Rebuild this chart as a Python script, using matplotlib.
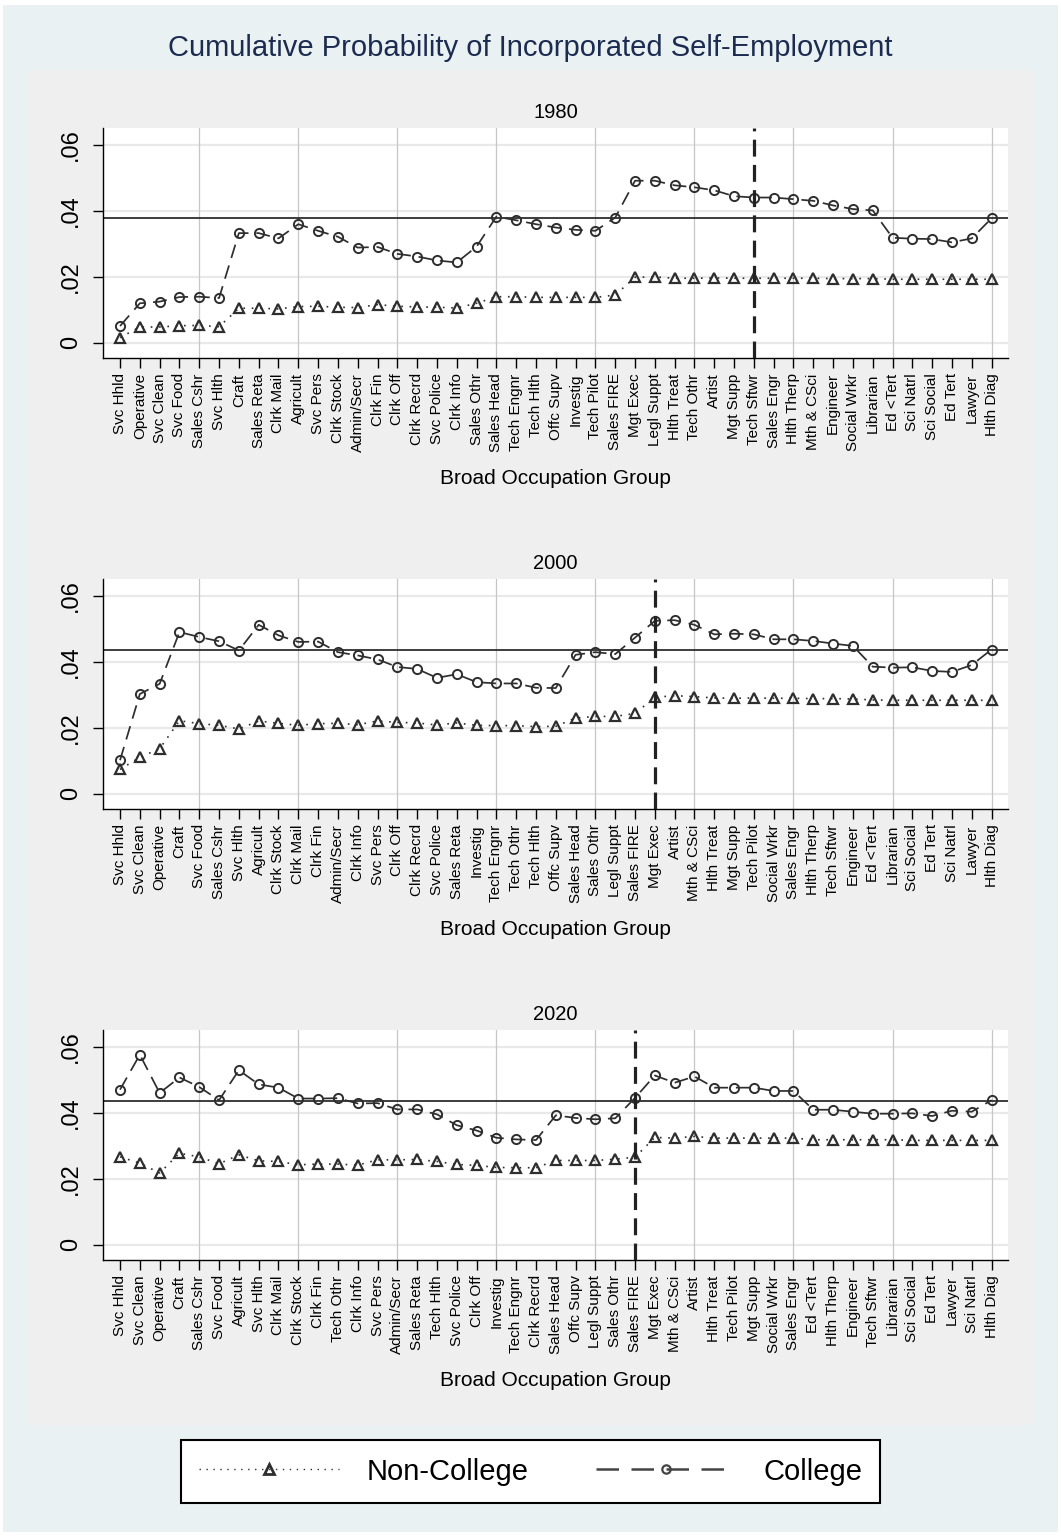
import numpy as np
import matplotlib
matplotlib.use("Agg")
import matplotlib.pyplot as plt
from matplotlib.patches import Rectangle
from matplotlib.lines import Line2D

plt.rcParams["font.family"] = ["Liberation Sans", "DejaVu Sans"]

# ---- data -------------------------------------------------------------
years = ["1980", "2000", "2020"]

occ_1980 = ["Svc Hhld", "Operative", "Svc Clean", "Svc Food", "Sales Cshr", "Svc Hlth",
            "Craft", "Sales Reta", "Clrk Mail", "Agricult", "Svc Pers", "Clrk Stock",
            "Admin/Secr", "Clrk Fin", "Clrk Off", "Clrk Recrd", "Svc Police", "Clrk Info",
            "Sales Othr", "Sales Head", "Tech Engnr", "Tech Hlth", "Offc Supv", "Investig",
            "Tech Pilot", "Sales FIRE", "Mgt Exec", "Legl Suppt", "Hlth Treat", "Tech Othr",
            "Artist", "Mgt Supp", "Tech Sftwr", "Sales Engr", "Hlth Therp", "Mth & CSci",
            "Engineer", "Social Wrkr", "Librarian", "Ed <Tert", "Sci Natrl", "Sci Social",
            "Ed Tert", "Lawyer", "Hlth Diag"]
college_1980 = [0.0050, 0.0119, 0.0124, 0.0138, 0.0139, 0.0135, 0.0332, 0.0332, 0.0316,
                0.0359, 0.0339, 0.0321, 0.0288, 0.0290, 0.0269, 0.0261, 0.0249, 0.0243,
                0.0291, 0.0382, 0.0371, 0.0359, 0.0349, 0.0342, 0.0339, 0.0379, 0.0491,
                0.0491, 0.0477, 0.0471, 0.0462, 0.0444, 0.0440, 0.0440, 0.0435, 0.0430,
                0.0416, 0.0405, 0.0401, 0.0318, 0.0315, 0.0314, 0.0304, 0.0316, 0.0377]
noncollege_1980 = [0.0015, 0.0047, 0.0047, 0.0051, 0.0052, 0.0048, 0.0104, 0.0104, 0.0102,
                   0.0109, 0.0110, 0.0107, 0.0106, 0.0115, 0.0110, 0.0108, 0.0107, 0.0105,
                   0.0119, 0.0139, 0.0139, 0.0137, 0.0137, 0.0137, 0.0137, 0.0144, 0.0198,
                   0.0199, 0.0195, 0.0195, 0.0196, 0.0195, 0.0195, 0.0195, 0.0195, 0.0195,
                   0.0194, 0.0194, 0.0194, 0.0192, 0.0192, 0.0192, 0.0192, 0.0192, 0.0192]

occ_2000 = ["Svc Hhld", "Svc Clean", "Operative", "Craft", "Svc Food", "Sales Cshr",
            "Svc Hlth", "Agricult", "Clrk Stock", "Clrk Mail", "Clrk Fin", "Admin/Secr",
            "Clrk Info", "Svc Pers", "Clrk Off", "Clrk Recrd", "Svc Police", "Sales Reta",
            "Investig", "Tech Engnr", "Tech Othr", "Tech Hlth", "Offc Supv", "Sales Head",
            "Sales Othr", "Legl Suppt", "Sales FIRE", "Mgt Exec", "Artist", "Mth & CSci",
            "Hlth Treat", "Mgt Supp", "Tech Pilot", "Social Wrkr", "Sales Engr", "Hlth Therp",
            "Tech Sftwr", "Engineer", "Ed <Tert", "Librarian", "Sci Social", "Ed Tert",
            "Sci Natrl", "Lawyer", "Hlth Diag"]
college_2000 = [0.0101, 0.0302, 0.0333, 0.0490, 0.0475, 0.0462, 0.0434, 0.0512, 0.0480,
                0.0460, 0.0461, 0.0429, 0.0419, 0.0407, 0.0384, 0.0378, 0.0351, 0.0362,
                0.0338, 0.0334, 0.0334, 0.0321, 0.0320, 0.0421, 0.0429, 0.0423, 0.0473,
                0.0524, 0.0526, 0.0512, 0.0483, 0.0485, 0.0483, 0.0468, 0.0468, 0.0463,
                0.0455, 0.0448, 0.0385, 0.0382, 0.0383, 0.0372, 0.0369, 0.0390, 0.0437]
noncollege_2000 = [0.0073, 0.0110, 0.0136, 0.0221, 0.0212, 0.0207, 0.0196, 0.0220, 0.0213,
                   0.0207, 0.0212, 0.0213, 0.0209, 0.0220, 0.0216, 0.0214, 0.0208, 0.0214,
                   0.0207, 0.0206, 0.0206, 0.0203, 0.0204, 0.0229, 0.0234, 0.0234, 0.0243,
                   0.0292, 0.0297, 0.0294, 0.0290, 0.0289, 0.0290, 0.0289, 0.0289, 0.0288,
                   0.0288, 0.0287, 0.0284, 0.0283, 0.0283, 0.0283, 0.0283, 0.0283, 0.0283]

occ_2020 = ["Svc Hhld", "Svc Clean", "Operative", "Craft", "Sales Cshr", "Svc Food",
            "Agricult", "Svc Hlth", "Clrk Mail", "Clrk Stock", "Clrk Fin", "Tech Othr",
            "Clrk Info", "Svc Pers", "Admin/Secr", "Sales Reta", "Tech Hlth", "Svc Police",
            "Clrk Off", "Investig", "Tech Engnr", "Clrk Recrd", "Sales Head", "Offc Supv",
            "Legl Suppt", "Sales Othr", "Sales FIRE", "Mgt Exec", "Mth & CSci", "Artist",
            "Hlth Treat", "Tech Pilot", "Mgt Supp", "Social Wrkr", "Sales Engr", "Ed <Tert",
            "Hlth Therp", "Engineer", "Tech Sftwr", "Librarian", "Sci Social", "Ed Tert",
            "Lawyer", "Sci Natrl", "Hlth Diag"]
college_2020 = [0.0470, 0.0576, 0.0460, 0.0507, 0.0478, 0.0438, 0.0529, 0.0486, 0.0476,
                0.0443, 0.0443, 0.0444, 0.0428, 0.0429, 0.0410, 0.0410, 0.0395, 0.0362,
                0.0346, 0.0324, 0.0319, 0.0317, 0.0392, 0.0384, 0.0380, 0.0383, 0.0445,
                0.0513, 0.0491, 0.0510, 0.0476, 0.0476, 0.0476, 0.0466, 0.0466, 0.0409,
                0.0409, 0.0403, 0.0397, 0.0397, 0.0398, 0.0390, 0.0406, 0.0403, 0.0438]
noncollege_2020 = [0.0266, 0.0247, 0.0217, 0.0277, 0.0266, 0.0245, 0.0272, 0.0254, 0.0252,
                   0.0242, 0.0244, 0.0244, 0.0241, 0.0257, 0.0257, 0.0258, 0.0252, 0.0243,
                   0.0240, 0.0234, 0.0233, 0.0233, 0.0255, 0.0255, 0.0255, 0.0259, 0.0265,
                   0.0325, 0.0323, 0.0328, 0.0323, 0.0323, 0.0323, 0.0323, 0.0323, 0.0318,
                   0.0318, 0.0318, 0.0318, 0.0318, 0.0316, 0.0316, 0.0316, 0.0316, 0.0316]

overall_rate = [0.0379, 0.0437, 0.0437]
cutoff_occ = ["Tech Sftwr", "Mgt Exec", "Sales FIRE"]

occupations = [occ_1980, occ_2000, occ_2020]
college = [college_1980, college_2000, college_2020]
noncollege = [noncollege_1980, noncollege_2000, noncollege_2020]

yticks = [0, 0.02, 0.04, 0.06]
ytick_labels = ["0", ".02", ".04", ".06"]

# ---- figure -----------------------------------------------------------
W, H = 1061, 1537
fig = plt.figure(figsize=(W / 100, H / 100), dpi=100)
fig.patch.set_facecolor("white")


def fx(x):
    return x / W


def fy(y):
    return 1 - y / H


def band(x0, y0, x1, y1, color):
    fig.add_artist(Rectangle((fx(x0), fy(y1)), fx(x1) - fx(x0), fy(y0) - fy(y1),
                             transform=fig.transFigure, facecolor=color,
                             edgecolor="none", zorder=-10))


band(3, 5, 1058, 1532, "#e9f1f3")
band(27, 70, 1034, 1425, "#efefef")

fig.text(0.5, fy(48), "Cumulative Probability of Incorporated Self-Employment",
         ha="center", va="center", fontsize=21, color="#1c2b50")

dark = "#2e2e2e"
panel_tops = [128, 579, 1030]
ax_h = 230
ax_left, ax_right = 103, 1008

for k in range(3):
    top = panel_tops[k]
    ax = fig.add_axes([fx(ax_left), fy(top + ax_h), fx(ax_right) - fx(ax_left), ax_h / H])
    ax.set_facecolor("white")
    x = np.arange(1, len(occupations[k]) + 1)

    ax.set_xlim(0.14, 45.83)
    ax.set_ylim(-0.0047, 0.0651)

    for gy in yticks:
        ax.axhline(gy, color="#e9e9e9", lw=1.6, zorder=0)
    for gx in range(5, 46, 5):
        ax.axvline(gx, color="#c6c6c6", lw=0.9, zorder=0)

    ax.axhline(overall_rate[k], color=dark, lw=1.3, zorder=2)

    ax.plot(x, noncollege[k], linestyle=(0, (1, 4)), lw=1.2, color=dark,
            marker="^", ms=7.4, mfc="none", mec=dark, mew=1.6, zorder=3)
    ax.plot(x, college[k], linestyle=(0, (8, 4.5)), lw=1.25, color=dark,
            marker="o", ms=6.6, mfc="none", mec=dark, mew=1.4, zorder=3)

    cut = occupations[k].index(cutoff_occ[k]) + 1
    ax.axvline(cut, color="#222222", lw=2.3, linestyle=(0, (5.3, 2.6)), zorder=4)

    ax.set_xticks(x)
    ax.set_xticklabels(occupations[k], rotation=90, fontsize=11)
    ax.set_yticks(yticks)
    ax.set_yticklabels(ytick_labels, rotation=90, va="center", fontsize=17)
    ax.tick_params(axis="x", length=7, width=1.0, pad=4, direction="out")
    ax.tick_params(axis="y", length=7, width=1.0, pad=8, direction="out")

    for side in ("top", "right"):
        ax.spines[side].set_visible(False)
    for side in ("left", "bottom"):
        ax.spines[side].set_linewidth(1.0)
        ax.spines[side].set_color("black")

    ax.text(0.5, 1 + 16 / ax_h, years[k], transform=ax.transAxes,
            ha="center", va="center", fontsize=14.5)
    ax.text(0.5, -(478 - 358) / ax_h, "Broad Occupation Group", transform=ax.transAxes,
            ha="center", va="center", fontsize=15)

handles = [
    Line2D([], [], linestyle=(0, (1, 4)), lw=1.0, color=dark, marker="^", ms=7.2,
           mfc="none", mec=dark, mew=2.0),
    Line2D([], [], linestyle=(0, (9, 5)), lw=1.8, color="#444444", marker="o", ms=6,
           mfc="none", mec="#444444", mew=1.6),
]
leg = fig.legend(handles, ["Non-College", "College"], loc="center",
                 bbox_to_anchor=(0.5, fy(1471.5)), ncol=2, fontsize=21,
                 frameon=True, fancybox=False, edgecolor="black", framealpha=1,
                 handlelength=4.8, handletextpad=0.95, columnspacing=2.3,
                 borderpad=0.6, markerscale=1.0)
leg.get_frame().set_linewidth(1.5)

fig.savefig("out.png", dpi=100, facecolor=fig.get_facecolor())
